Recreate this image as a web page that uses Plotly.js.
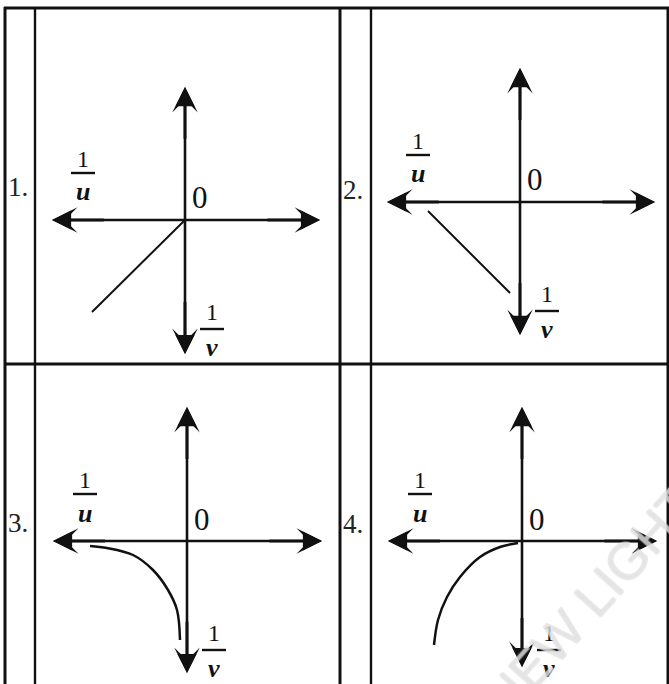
<!DOCTYPE html>
<html>
<head>
<meta charset="utf-8">
<script src="https://cdn.plot.ly/plotly-3.0.1.min.js"></script>
<style>
  html, body { margin: 0; padding: 0; background: #fff; }
  #chart { width: 669px; height: 684px; }
</style>
</head>
<body>
<div id="chart"></div>
<script>
// Rótulos de cada painel
const panelLabels = ['1.', '2.', '3.', '4.'];
const uNum = '1', uDen = 'u', vNum = '1', vDen = 'v', originText = '0';

// Extremos das setas dos eixos (unidades do painel, origem no cruzamento)
const tipUp = [1.33, 1.34, 1.34, 1.34];
const tipDown = [-1.34, -1.33, -1.32, -1.26];
const tipLeft = [-1.33, -1.33, -1.34, -1.34];
const tipRight = [1.35, 1.35, 1.35, 1.35];

// Curvas
const line1X = [0, -0.93];
const line1Y = [0, -0.92];
const line2X = [-0.92, -0.10];
const line2Y = [-0.09, -0.91];
const curve3X = [-0.97, -0.80, -0.54, -0.34, -0.19, -0.10, -0.07];
const curve3Y = [-0.05, -0.07, -0.14, -0.29, -0.49, -0.69, -0.99];
const curve4X = [-0.04, -0.22, -0.42, -0.62, -0.75, -0.84, -0.88];
const curve4Y = [-0.02, -0.06, -0.16, -0.36, -0.56, -0.79, -1.04];

const curvesX = [line1X, line2X, curve3X, curve4X];
const curvesY = [line1Y, line2Y, curve3Y, curve4Y];

// Geometria da página (pixels)
const W = 669, H = 684, S = 100;
const cells = [
  { x0: 37, x1: 339, y0: 10, y1: 363, ox: 185, oy: 220, lab: [18, 187] },
  { x0: 372, x1: 667, y0: 10, y1: 363, ox: 520, oy: 202, lab: [353, 190] },
  { x0: 37, x1: 339, y0: 366, y1: 684, ox: 187, oy: 541, lab: [18, 523] },
  { x0: 372, x1: 667, y0: 366, y1: 684, ox: 522, oy: 541, lab: [353, 524] },
];

const INK = '#111';
const serif = '"Liberation Serif", "Times New Roman", serif';

const traces = [];
const annotations = [];
const shapes = [];
const layout = {
  width: W,
  height: H,
  margin: { l: 0, r: 0, t: 0, b: 0 },
  paper_bgcolor: '#fff',
  plot_bgcolor: 'rgba(0,0,0,0)',
  showlegend: false,
};

cells.forEach((c, i) => {
  const n = i === 0 ? '' : String(i + 1);
  const xa = 'x' + n, ya = 'y' + n;
  const axOpts = { visible: false, fixedrange: true, showgrid: false, zeroline: false };
  layout['xaxis' + n] = Object.assign({}, axOpts, {
    domain: [c.x0 / W, c.x1 / W],
    range: [(c.x0 - c.ox) / S, (c.x1 - c.ox) / S],
    anchor: ya,
  });
  layout['yaxis' + n] = Object.assign({}, axOpts, {
    domain: [1 - c.y1 / H, 1 - c.y0 / H],
    range: [(c.oy - c.y1) / S, (c.oy - c.y0) / S],
    anchor: xa,
  });

  const axLine = { color: INK, width: 2.6 };
  // eixos (recuados para a ponta da seta ficar fina)
  traces.push({
    type: 'scatter', mode: 'lines', xaxis: xa, yaxis: ya, hoverinfo: 'skip',
    x: [tipLeft[i] + 0.12, tipRight[i] - 0.12], y: [0, 0], line: axLine,
  });
  traces.push({
    type: 'scatter', mode: 'lines', xaxis: xa, yaxis: ya, hoverinfo: 'skip',
    x: [0, 0], y: [tipDown[i] + 0.12, tipUp[i] - 0.12], line: axLine,
  });
  // curva do painel
  traces.push({
    type: 'scatter', mode: 'lines', xaxis: xa, yaxis: ya, hoverinfo: 'skip',
    x: curvesX[i], y: curvesY[i],
    line: { color: INK, width: i < 2 ? 2 : 2.5, shape: i < 2 ? 'linear' : 'spline' },
  });

  // pontas das setas: dardo com entalhe + triângulo para encher o entalhe
  const heads = [[tipRight[i], 0], [tipLeft[i], 0], [0, tipUp[i]], [0, tipDown[i]]];
  heads.forEach(([hx, hy]) => {
    [[3, 1.7], [2, 1.53]].forEach(([style, size]) => {
      annotations.push({
        xref: xa, yref: ya, axref: xa, ayref: ya,
        x: hx, y: hy, ax: hx * 0.6, ay: hy * 0.6,
        text: '', showarrow: true, arrowhead: style, arrowsize: size, arrowwidth: 2.5,
        arrowcolor: INK, standoff: 0, startstandoff: 0,
      });
    });
  });

  // frações 1/u e 1/v
  const txt = (x, y, t, f) => annotations.push({
    xref: xa, yref: ya, x: x, y: y, text: t, showarrow: false,
    xanchor: 'center', yanchor: 'middle', font: f,
  });
  const numFont = { family: serif, size: 24, color: INK };
  const denFont = { family: serif, size: 26, color: INK, style: 'italic', weight: 'bold' };
  txt(-1.02, 0.61, uNum, numFont);
  txt(-1.02, 0.28, uDen, denFont);
  txt(0.27, -0.92, vNum, numFont);
  txt(0.27, -1.27, vDen, denFont);
  txt(0.15, 0.22, originText, { family: serif, size: 31, color: INK });
  [[-1.02, 0.47], [0.27, -1.09]].forEach(([bx, by]) => {
    shapes.push({
      type: 'line', xref: xa, yref: ya,
      x0: bx - 0.12, x1: bx + 0.12, y0: by, y1: by,
      line: { color: INK, width: 2.4 },
    });
  });

  // número do painel
  annotations.push({
    xref: 'paper', yref: 'paper', x: c.lab[0] / W, y: 1 - c.lab[1] / H,
    text: panelLabels[i], showarrow: false, xanchor: 'center', yanchor: 'middle',
    font: { family: serif, size: 27, color: '#222' },
  });
});

// linhas da tabela
const vLines = [5, 35, 340, 371, 668];
const hLines = [8, 364];
vLines.forEach(px => shapes.push({
  type: 'line', xref: 'paper', yref: 'paper',
  x0: px / W, x1: px / W, y0: 0, y1: 1 - 7 / H,
  line: { color: INK, width: px === 35 || px === 371 ? 2.4 : 3 },
}));
hLines.forEach(py => shapes.push({
  type: 'line', xref: 'paper', yref: 'paper',
  x0: 4 / W, x1: 669 / W, y0: 1 - py / H, y1: 1 - py / H,
  line: { color: INK, width: 3 },
}));

// marca d'água
const gray = 'rgb(205,205,205)';
annotations.push({
  xref: 'paper', yref: 'paper', x: 590 / W, y: 1 - 602 / H,
  text: 'NEW LIGHT', showarrow: false, textangle: -48,
  xanchor: 'center', yanchor: 'middle',
  font: {
    family: 'Liberation Sans, Arial, sans-serif', size: 52, color: 'rgba(255,255,255,0.3)',
    shadow: `${gray} 1px 0 0, ${gray} -1px 0 0, ${gray} 0 1px 0, ${gray} 0 -1px 0`,
  },
});

layout.shapes = shapes;
layout.annotations = annotations;

Plotly.newPlot('chart', traces, layout, { staticPlot: true, displayModeBar: false });
</script>
</body>
</html>
